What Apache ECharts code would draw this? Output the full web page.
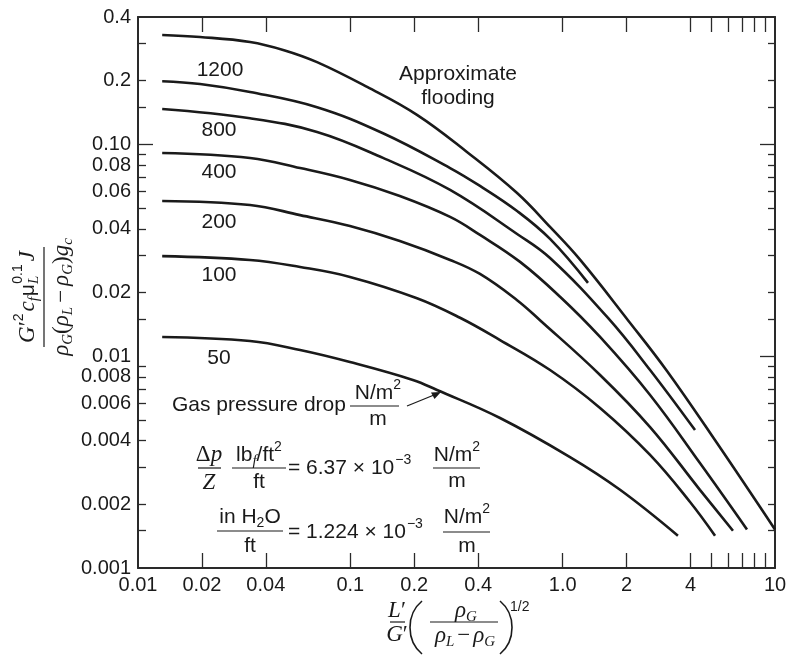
<!DOCTYPE html>
<html>
<head>
<meta charset="utf-8">
<script src="https://cdn.jsdelivr.net/npm/echarts@6/dist/echarts.min.js"></script>
<style>
  html, body { margin: 0; padding: 0; background: #fff; }
  #chart { width: 792px; height: 656px; }
</style>
</head>
<body>
<div id="chart"></div>
<script>
// Generalized flooding / pressure-drop correlation for packed towers.
// x: L'/G' (rho_G/(rho_L - rho_G))^0.5, y: G'^2 Cf muL^0.1 J / (rho_G (rho_L - rho_G) gc)

// ---- axis ranges and ticks ----
const X_MIN = 0.01, X_MAX = 10;
const Y_MIN = 0.001, Y_MAX = 0.4;
const xLabelValues = [0.01, 0.02, 0.04, 0.1, 0.2, 0.4, 1, 2, 4, 10];
const xLabelTexts  = ['0.01', '0.02', '0.04', '0.1', '0.2', '0.4', '1.0', '2', '4', '10'];
const xTickValues  = [0.02, 0.04, 0.1, 0.2, 0.4, 1, 2, 4, 5, 6, 7, 8, 9];
const yLabelValues = [0.4, 0.2, 0.1, 0.08, 0.06, 0.04, 0.02, 0.01, 0.008, 0.006, 0.004, 0.002, 0.001];
const yLabelTexts  = ['0.4', '0.2', '0.10', '0.08', '0.06', '0.04', '0.02', '0.01', '0.008', '0.006', '0.004', '0.002', '0.001'];
const yShortTicks  = [0.3, 0.2, 0.15, 0.09, 0.08, 0.07, 0.06, 0.05, 0.04, 0.03, 0.02, 0.015,
                      0.009, 0.008, 0.007, 0.006, 0.005, 0.004, 0.003, 0.002, 0.0015];
const yLongTicksLeft  = [0.1];
const yLongTicksRight = [0.1, 0.01];

// ---- curves: [x, y] ----
const flooding = [[0.013, 0.329], [0.0196, 0.322], [0.0337, 0.305], [0.0487, 0.279], [0.0697, 0.245],
  [0.12, 0.187], [0.206, 0.138], [0.354, 0.0922], [0.61, 0.059], [0.872, 0.0408], [1.21, 0.0285],
  [2.03, 0.0148], [3.10, 0.00852], [5.33, 0.00389], [10, 0.00152]];
const dp1200 = [[0.013, 0.199], [0.0196, 0.193], [0.0337, 0.177], [0.0697, 0.150], [0.1425, 0.113],
  [0.295, 0.0774], [0.408, 0.0637], [0.61, 0.0485], [0.872, 0.0358], [1.316, 0.0222]];
const dp800 = [[0.013, 0.147], [0.0337, 0.133], [0.0697, 0.1146], [0.1425, 0.0864], [0.295, 0.061],
  [0.61, 0.0378], [0.872, 0.0291], [1.635, 0.01516], [2.58, 0.00861], [4.2, 0.00448]];
const dp400 = [[0.013, 0.0912], [0.0337, 0.0864], [0.058, 0.0774], [0.0996, 0.068], [0.171, 0.0571],
  [0.295, 0.0455], [0.408, 0.0374], [0.63, 0.0279], [0.972, 0.0191], [1.50, 0.01233], [2.58, 0.00656],
  [4.43, 0.00313], [7.38, 0.00152]];
const dp200 = [[0.013, 0.0541], [0.0337, 0.0518], [0.058, 0.0464], [0.0996, 0.0412], [0.171, 0.035],
  [0.295, 0.0285], [0.408, 0.02446], [0.61, 0.0184], [0.782, 0.0148], [1.50, 0.00816], [2.58, 0.00463],
  [4.43, 0.00234], [6.34, 0.0015]];
const dp100 = [[0.013, 0.0297], [0.0337, 0.0285], [0.058, 0.0264], [0.0996, 0.0237], [0.206, 0.0188],
  [0.3285, 0.0152], [0.507, 0.01193], [0.872, 0.00861], [1.50, 0.0057], [2.58, 0.00342], [3.98, 0.00205],
  [5.22, 0.00142]];
const dp50 = [[0.013, 0.01233], [0.0337, 0.0118], [0.058, 0.0107], [0.0996, 0.00939], [0.197, 0.00773],
  [0.256, 0.00693], [0.507, 0.00511], [1.083, 0.00334], [1.863, 0.00234], [3.49, 0.00142]];

const curveNames = ['Approximate flooding', '1200', '800', '400', '200', '100', '50'];
const curves = [flooding, dp1200, dp800, dp400, dp200, dp100, dp50];

// ---- styling ----
const INK = '#1a1a1a';
const AXIS = '#2a2a2a';
const SANS = '"Liberation Sans", Arial, Helvetica, sans-serif';
const SERIF = '"Liberation Serif", "Times New Roman", serif';
const F = {
  s:  '21px ' + SANS,
  ss: '14px ' + SANS,
  i:  'italic 23px ' + SERIF,
  is: 'italic 15px ' + SERIF,
  r:  '23px ' + SERIF
};

const measure = document.createElement('canvas').getContext('2d');
function textWidth(t, f) { measure.font = f; return measure.measureText(t).width; }

function textEl(t, x, y, font, align) {
  return {
    type: 'text', x: x, y: y, silent: true,
    style: { text: t, font: font, fill: INK, textAlign: align || 'left', textVerticalAlign: 'middle',
             align: align || 'left', verticalAlign: 'middle' }
  };
}
// a run of tokens [text, fontKey, dy, dx] laid out left to right
function run(tokens, x0, y, align) {
  const ws = tokens.map(t => textWidth(t[0], F[t[1]]));
  let total = 0;
  tokens.forEach((t, i) => { total += ws[i] + (t[3] || 0); });
  let x = align === 'center' ? x0 - total / 2 : (align === 'right' ? x0 - total : x0);
  const els = [];
  tokens.forEach((t, i) => {
    x += (t[3] || 0);
    els.push(textEl(t[0], x, y + (t[2] || 0), F[t[1]], 'left'));
    x += ws[i];
  });
  return els;
}
function bar(x1, x2, y) {
  return { type: 'line', silent: true, shape: { x1: x1, y1: y, x2: x2, y2: y },
           style: { stroke: INK, lineWidth: 1.2 } };
}
function paren(x, yTop, yBot, bulge) {
  const h = yBot - yTop;
  return { type: 'bezierCurve', silent: true,
           shape: { x1: x, y1: yTop, cpx1: x + bulge, cpy1: yTop + h * 0.25,
                    cpx2: x + bulge, cpy2: yTop + h * 0.75, x2: x, y2: yBot },
           style: { stroke: INK, lineWidth: 1.6, fill: null } };
}

const graphics = [];
// curve annotations
[['1200', 220, 70], ['800', 219, 130], ['400', 219, 172], ['200', 219, 222],
 ['100', 219, 275], ['50', 219, 358]].forEach(l => graphics.push(textEl(l[0], l[1], l[2], F.s, 'center')));
graphics.push(textEl('Approximate', 458, 74, F.s, 'center'));
graphics.push(textEl('flooding', 458, 98, F.s, 'center'));

// gas pressure drop note with arrow
graphics.push(...run([['Gas pressure drop', 's']], 172, 405, 'left'));
graphics.push(...run([['N/m', 's'], ['2', 'ss', -8]], 378, 393, 'center'));
graphics.push(bar(350, 399, 406));
graphics.push(...run([['m', 's']], 378, 419, 'center'));
graphics.push({ type: 'line', silent: true, shape: { x1: 407, y1: 406, x2: 434, y2: 395 },
                style: { stroke: INK, lineWidth: 1.2 } });
graphics.push({ type: 'polygon', silent: true, shape: { points: [[441, 392], [431, 392.5], [434.5, 399]] },
                style: { fill: INK } });

// unit conversion 1
graphics.push(...run([['Δ', 'r'], ['p', 'i']], 209, 455, 'center'));
graphics.push(bar(198, 221, 468));
graphics.push(...run([['Z', 'i']], 209, 483, 'center'));
graphics.push(...run([['lb', 's'], ['f', 'is', 6], ['/ft', 's'], ['2', 'ss', -8]], 259, 455, 'center'));
graphics.push(bar(232, 286, 468));
graphics.push(...run([['ft', 's']], 259, 482, 'center'));
graphics.push(...run([['= 6.37 × 10', 's'], ['−3', 'ss', -8, 1]], 288, 468, 'left'));
graphics.push(...run([['N/m', 's'], ['2', 'ss', -8]], 457, 455, 'center'));
graphics.push(bar(433, 480, 468));
graphics.push(...run([['m', 's']], 457, 481, 'center'));

// unit conversion 2
graphics.push(...run([['in H', 's'], ['2', 'ss', 6], ['O', 's']], 250, 517, 'center'));
graphics.push(bar(217, 283, 531));
graphics.push(...run([['ft', 's']], 250, 546, 'center'));
graphics.push(...run([['= 1.224 × 10', 's'], ['−3', 'ss', -8, 1]], 288, 532, 'left'));
graphics.push(...run([['N/m', 's'], ['2', 'ss', -8]], 467, 517, 'center'));
graphics.push(bar(443, 490, 532));
graphics.push(...run([['m', 's']], 467, 546, 'center'));

// y-axis title (rotated fraction)
const yTitle = [];
yTitle.push(...run([['G', 'i'], ['′', 'r'], ['2', 'ss', -9], ['c', 'i', 0, 2], ['f', 'is', 6],
  ['μ', 's', 0, 1], ['L', 'is', 6], ['0.1', 'ss', -10, -8], ['J', 'i', 0, 3]], 0, -16, 'center'));
yTitle.push(bar(-50, 50, 0));
yTitle.push(...run([['ρ', 'i'], ['G', 'is', 6], ['(', 'r'], ['ρ', 'i'], ['L', 'is', 6], ['−', 'r', 0, 4],
  ['ρ', 'i', 0, 4], ['G', 'is', 6], [')', 'r'], ['g', 'i'], ['c', 'is', 6]], 0, 18, 'center'));
graphics.push({ type: 'group', x: 44, y: 297, rotation: Math.PI / 2, children: yTitle });

// x-axis title
graphics.push(...run([['L', 'i'], ['′', 'r']], 397, 611, 'center'));
graphics.push(bar(390, 405, 622));
graphics.push(...run([['G', 'i'], ['′', 'r']], 397, 635, 'center'));
graphics.push(paren(422, 601, 654, -16));
graphics.push(...run([['ρ', 'i'], ['G', 'is', 6]], 466, 611, 'center'));
graphics.push(bar(430, 498, 622));
graphics.push(...run([['ρ', 'i'], ['L', 'is', 6], ['−', 'r', 0, 3], ['ρ', 'i', 0, 3], ['G', 'is', 6]], 465, 636, 'center'));
graphics.push(paren(500, 601, 654, 16));
graphics.push(...run([['1/2', 'ss']], 510, 607, 'left'));

function lookup(values, texts) {
  return function (v) {
    for (let i = 0; i < values.length; i++) {
      if (Math.abs(v - values[i]) <= values[i] * 1e-6) return texts[i];
    }
    return '';
  };
}

const axisLineStyle = { color: AXIS, width: 2 };
const tickStyle = { color: AXIS, width: 1.3 };
const labelStyle = { color: INK, fontFamily: SANS, fontSize: 20 };

function yAxisDef(pos, ticks, len, withLine, withLabels) {
  return {
    type: 'log', logBase: 10, position: pos, min: Y_MIN, max: Y_MAX,
    axisLine: { show: withLine, onZero: false, lineStyle: axisLineStyle },
    axisTick: { show: true, inside: true, length: len, customValues: ticks, lineStyle: tickStyle },
    axisLabel: withLabels
      ? Object.assign({ show: true, margin: 7, customValues: yLabelValues,
                        formatter: lookup(yLabelValues, yLabelTexts) }, labelStyle)
      : { show: false },
    splitLine: { show: false }, minorTick: { show: false }, minorSplitLine: { show: false }
  };
}
function xAxisDef(pos, withLabels) {
  return {
    type: 'log', logBase: 10, position: pos, min: X_MIN, max: X_MAX,
    axisLine: { show: true, onZero: false, lineStyle: axisLineStyle },
    axisTick: { show: true, inside: true, length: 15, customValues: xTickValues, lineStyle: tickStyle },
    axisLabel: withLabels
      ? Object.assign({ show: true, margin: 7, customValues: xLabelValues,
                        formatter: lookup(xLabelValues, xLabelTexts) }, labelStyle)
      : { show: false },
    splitLine: { show: false }, minorTick: { show: false }, minorSplitLine: { show: false }
  };
}

const chart = echarts.init(document.getElementById('chart'), null, { renderer: 'canvas' });
chart.setOption({
  animation: false,
  backgroundColor: '#ffffff',
  grid: { left: 138, right: 17, top: 17, bottom: 88, containLabel: false },
  xAxis: [xAxisDef('bottom', true), xAxisDef('top', false)],
  yAxis: [
    yAxisDef('left', yShortTicks, 8, true, true),
    yAxisDef('left', yLongTicksLeft, 15, false, false),
    yAxisDef('right', yShortTicks, 7, true, false),
    yAxisDef('right', yLongTicksRight, 15, false, false)
  ],
  series: curves.map((d, i) => ({
    name: curveNames[i], type: 'line', data: d, xAxisIndex: 0, yAxisIndex: 0,
    smooth: 0.4, symbol: 'none', silent: true,
    lineStyle: { color: INK, width: 2.6 }
  })),
  graphic: { elements: graphics }
});
</script>
</body>
</html>
